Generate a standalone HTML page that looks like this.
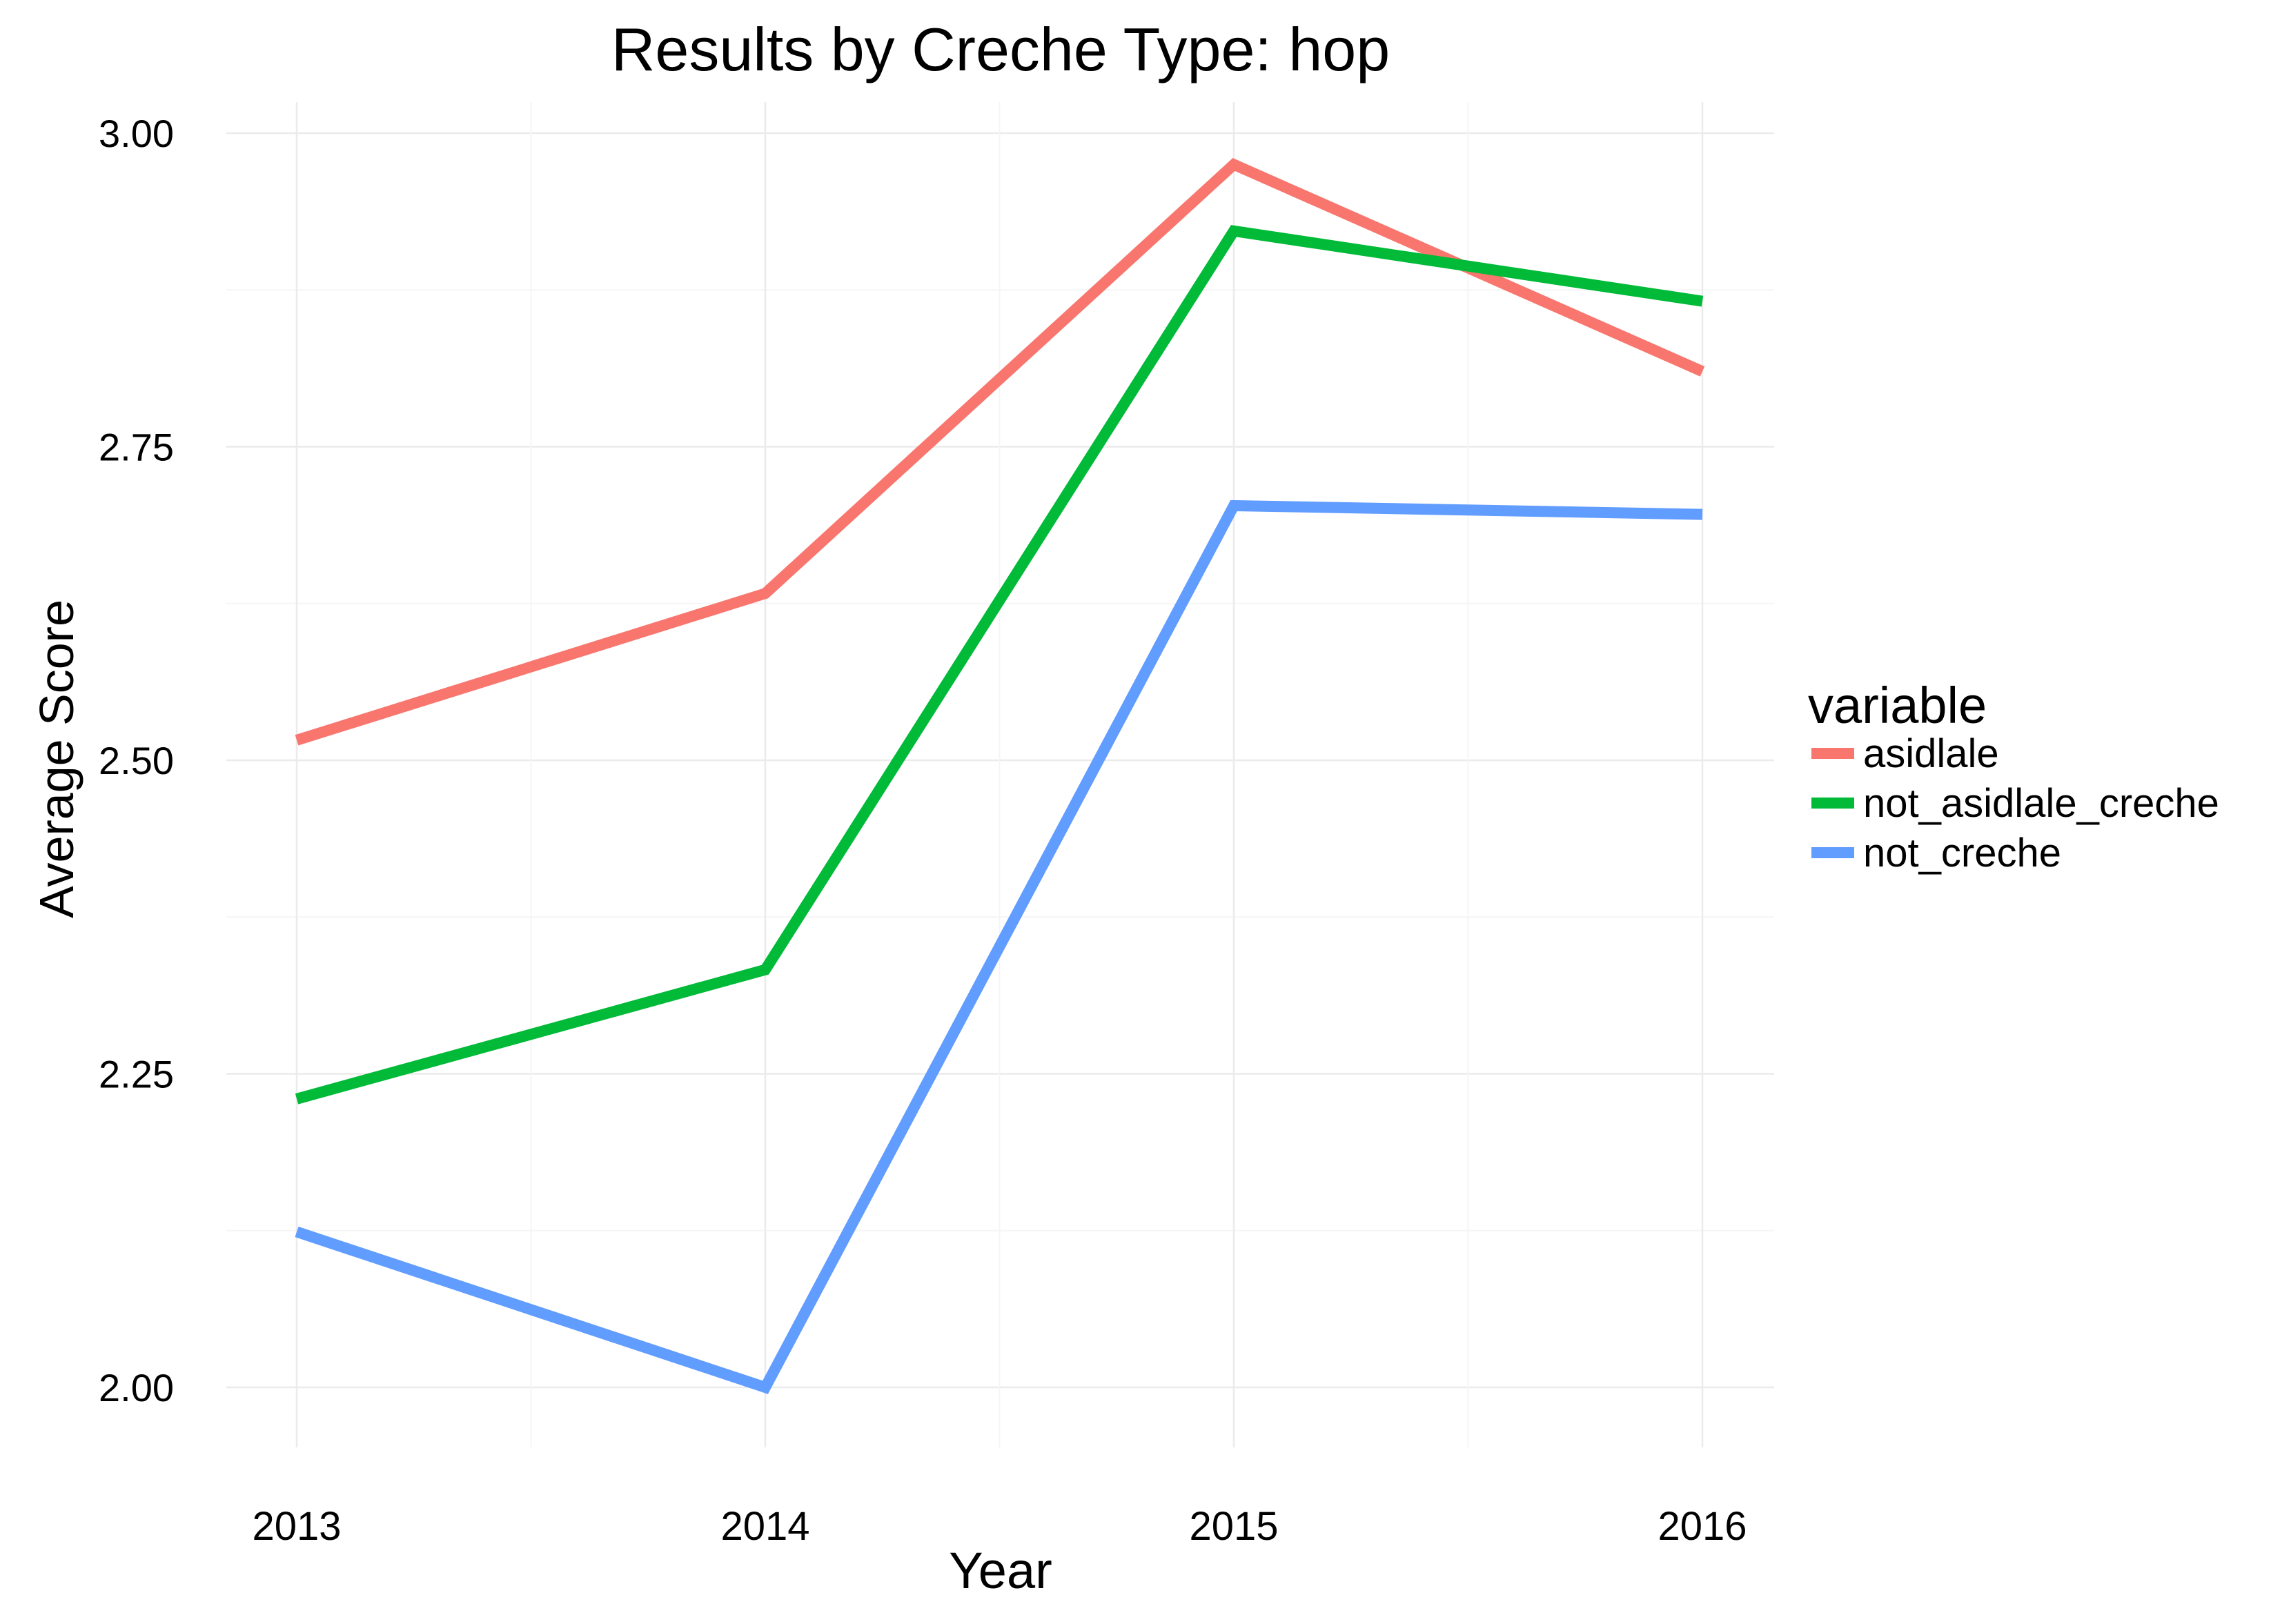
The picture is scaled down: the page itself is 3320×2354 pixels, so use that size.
<!DOCTYPE html>
<html><head><meta charset="utf-8"><style>
body{margin:0;background:#fff}
svg{display:block;font-family:"Liberation Sans",sans-serif}
</style></head><body>
<svg id="chart" width="3320" height="2354" viewBox="0 0 3320 2354" xmlns="http://www.w3.org/2000/svg">
<text x="1450" y="102" font-size="88" text-anchor="middle" fill="#000">Results by Creche Type: hop</text>
<g id="grid"></g>
<g id="series"></g>
<g id="yticks"></g>
<g id="xticks"></g>
<text x="1450" y="2302" font-size="74" text-anchor="middle">Year</text>
<text transform="translate(106,1100) rotate(-90)" font-size="70" text-anchor="middle">Average Score</text>
<g>
<text x="2620" y="1048" font-size="74">variable</text>
<g id="legend-entries"></g>
</g>
</svg>
<script>
const years=[2013,2014,2015,2016];
const yTicks=[2.00,2.25,2.50,2.75,3.00];
const yTickLabels=["2.00","2.25","2.50","2.75","3.00"];
const seriesNames=["asidlale","not_asidlale_creche","not_creche"];
const asidlale=[2.516,2.633,2.975,2.810];
const notAsidlaleCreche=[2.230,2.333,2.922,2.866];
const notCreche=[2.124,2.000,2.703,2.696];
const colors=["#F8766D","#00BA38","#619CFF"];
const allSeries=[asidlale,notAsidlaleCreche,notCreche];

const NS="http://www.w3.org/2000/svg";
const X=v=>430+(v-2013)*(2467-430)/3;
const Y=v=>2011-(v-2)*(2011-193);
function mk(tag,attrs,parent){const e=document.createElementNS(NS,tag);for(const k in attrs)e.setAttribute(k,attrs[k]);parent.appendChild(e);return e;}
const grid=document.getElementById('grid');
for(let i=0;i<yTicks.length;i++){
  const l=mk('line',{x1:328,x2:2571,y1:Y(yTicks[i]),y2:Y(yTicks[i]),stroke:'#ebebeb','stroke-width':2.5},grid);
  
  
  if(i<yTicks.length-1){const m=(yTicks[i]+yTicks[i+1])/2;
    const ml=mk('line',{x1:328,x2:2571,y1:Y(m),y2:Y(m),stroke:'#f5f5f5','stroke-width':2},grid);
    
    }
  const t=mk('text',{x:252,y:Y(yTicks[i])+20,'font-size':56,'text-anchor':'end',fill:'#000'},document.getElementById('yticks'));
  t.textContent=yTickLabels[i];
  
  
}
for(let i=0;i<years.length;i++){
  const l=mk('line',{x1:X(years[i]),x2:X(years[i]),y1:148,y2:2098,stroke:'#ebebeb','stroke-width':2.5},grid);
  
  
  if(i<years.length-1){const m=(years[i]+years[i+1])/2;
    const ml=mk('line',{x1:X(m),x2:X(m),y1:148,y2:2098,stroke:'#f5f5f5','stroke-width':2},grid);
    
    }
  const t=mk('text',{x:X(years[i]),y:2232,'font-size':58,'text-anchor':'middle',fill:'#000'},document.getElementById('xticks'));
  t.textContent=years[i];
  
  
}
const sg=document.getElementById('series');
allSeries.forEach((s,k)=>{
  const p=mk('polyline',{points:s.map((v,i)=>X(years[i])+','+Y(v)).join(' '),fill:'none',stroke:colors[k],'stroke-width':16},sg);
  
  
  const lg=document.getElementById('legend-entries');
  const yy=1092+k*72;
  const kl=mk('line',{x1:2625,x2:2687,y1:yy,y2:yy,stroke:colors[k],'stroke-width':16},lg);
  
  
  const t=mk('text',{x:2700,y:yy+20,'font-size':58,fill:'#000'},lg);
  t.textContent=seriesNames[k];
  
  
});
</script>
</body></html>
